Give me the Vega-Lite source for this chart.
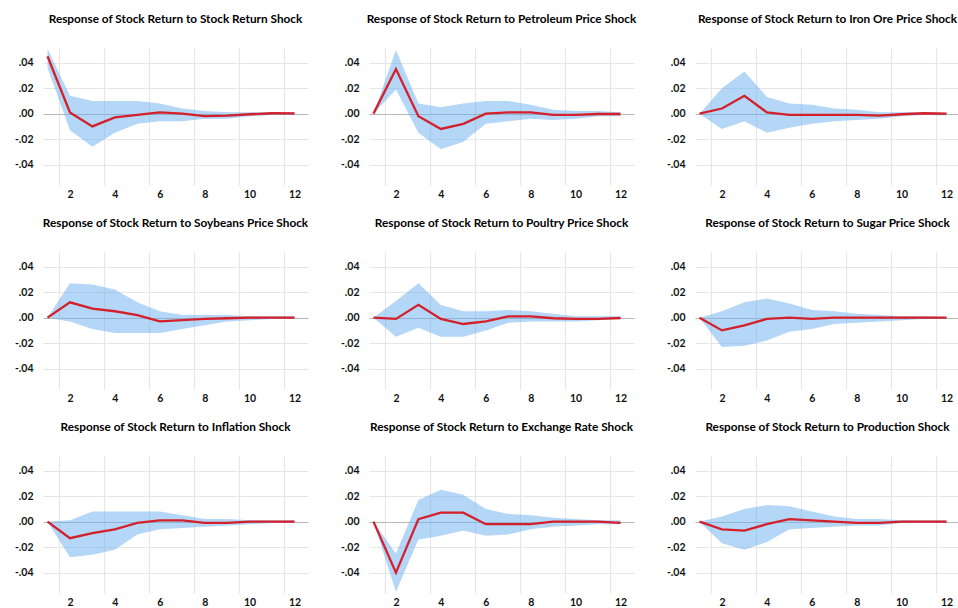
{
  "$schema": "https://vega.github.io/schema/vega-lite/v6.json",
  "padding": {"left": 14, "top": 14, "right": 0, "bottom": 5},
  "bounds": "flush",
  "spacing": {"row": 67, "column": 61},
  "data": {"values": [
    {"p": "Response of Stock Return to Stock Return Shock", "h": 1, "v": 0.045, "lo": 0.036, "hi": 0.051},
    {"p": "Response of Stock Return to Stock Return Shock", "h": 2, "v": 0.001, "lo": -0.013, "hi": 0.014},
    {"p": "Response of Stock Return to Stock Return Shock", "h": 3, "v": -0.010, "lo": -0.026, "hi": 0.010},
    {"p": "Response of Stock Return to Stock Return Shock", "h": 4, "v": -0.003, "lo": -0.015, "hi": 0.010},
    {"p": "Response of Stock Return to Stock Return Shock", "h": 5, "v": -0.001, "lo": -0.008, "hi": 0.010},
    {"p": "Response of Stock Return to Stock Return Shock", "h": 6, "v": 0.001, "lo": -0.006, "hi": 0.008},
    {"p": "Response of Stock Return to Stock Return Shock", "h": 7, "v": 0.000, "lo": -0.006, "hi": 0.004},
    {"p": "Response of Stock Return to Stock Return Shock", "h": 8, "v": -0.002, "lo": -0.004, "hi": 0.002},
    {"p": "Response of Stock Return to Stock Return Shock", "h": 9, "v": -0.0015, "lo": -0.004, "hi": 0.001},
    {"p": "Response of Stock Return to Stock Return Shock", "h": 10, "v": -0.0005, "lo": -0.002, "hi": 0.001},
    {"p": "Response of Stock Return to Stock Return Shock", "h": 11, "v": 0.0003, "lo": -0.001, "hi": 0.001},
    {"p": "Response of Stock Return to Stock Return Shock", "h": 12, "v": 0.0002, "lo": -0.001, "hi": 0.001},

    {"p": "Response of Stock Return to Petroleum Price Shock", "h": 1, "v": 0.0, "lo": 0.0, "hi": 0.0},
    {"p": "Response of Stock Return to Petroleum Price Shock", "h": 2, "v": 0.035, "lo": 0.019, "hi": 0.050},
    {"p": "Response of Stock Return to Petroleum Price Shock", "h": 3, "v": -0.002, "lo": -0.015, "hi": 0.008},
    {"p": "Response of Stock Return to Petroleum Price Shock", "h": 4, "v": -0.012, "lo": -0.028, "hi": 0.005},
    {"p": "Response of Stock Return to Petroleum Price Shock", "h": 5, "v": -0.008, "lo": -0.022, "hi": 0.008},
    {"p": "Response of Stock Return to Petroleum Price Shock", "h": 6, "v": 0.0, "lo": -0.008, "hi": 0.010},
    {"p": "Response of Stock Return to Petroleum Price Shock", "h": 7, "v": 0.001, "lo": -0.006, "hi": 0.010},
    {"p": "Response of Stock Return to Petroleum Price Shock", "h": 8, "v": 0.001, "lo": -0.004, "hi": 0.007},
    {"p": "Response of Stock Return to Petroleum Price Shock", "h": 9, "v": -0.001, "lo": -0.005, "hi": 0.003},
    {"p": "Response of Stock Return to Petroleum Price Shock", "h": 10, "v": -0.001, "lo": -0.004, "hi": 0.002},
    {"p": "Response of Stock Return to Petroleum Price Shock", "h": 11, "v": -0.0003, "lo": -0.002, "hi": 0.002},
    {"p": "Response of Stock Return to Petroleum Price Shock", "h": 12, "v": -0.0003, "lo": -0.002, "hi": 0.001},

    {"p": "Response of Stock Return to Iron Ore Price Shock", "h": 1, "v": 0.0, "lo": 0.0, "hi": 0.0},
    {"p": "Response of Stock Return to Iron Ore Price Shock", "h": 2, "v": 0.004, "lo": -0.012, "hi": 0.020},
    {"p": "Response of Stock Return to Iron Ore Price Shock", "h": 3, "v": 0.014, "lo": -0.006, "hi": 0.033},
    {"p": "Response of Stock Return to Iron Ore Price Shock", "h": 4, "v": 0.001, "lo": -0.015, "hi": 0.013},
    {"p": "Response of Stock Return to Iron Ore Price Shock", "h": 5, "v": -0.001, "lo": -0.011, "hi": 0.008},
    {"p": "Response of Stock Return to Iron Ore Price Shock", "h": 6, "v": -0.001, "lo": -0.008, "hi": 0.007},
    {"p": "Response of Stock Return to Iron Ore Price Shock", "h": 7, "v": -0.001, "lo": -0.006, "hi": 0.004},
    {"p": "Response of Stock Return to Iron Ore Price Shock", "h": 8, "v": -0.001, "lo": -0.005, "hi": 0.003},
    {"p": "Response of Stock Return to Iron Ore Price Shock", "h": 9, "v": -0.0015, "lo": -0.004, "hi": 0.001},
    {"p": "Response of Stock Return to Iron Ore Price Shock", "h": 10, "v": -0.0005, "lo": -0.002, "hi": 0.001},
    {"p": "Response of Stock Return to Iron Ore Price Shock", "h": 11, "v": 0.0003, "lo": -0.001, "hi": 0.001},
    {"p": "Response of Stock Return to Iron Ore Price Shock", "h": 12, "v": 0.0, "lo": -0.0015, "hi": 0.0005},

    {"p": "Response of Stock Return to Soybeans Price Shock", "h": 1, "v": 0.0, "lo": 0.0, "hi": 0.0},
    {"p": "Response of Stock Return to Soybeans Price Shock", "h": 2, "v": 0.012, "lo": -0.003, "hi": 0.027},
    {"p": "Response of Stock Return to Soybeans Price Shock", "h": 3, "v": 0.007, "lo": -0.009, "hi": 0.026},
    {"p": "Response of Stock Return to Soybeans Price Shock", "h": 4, "v": 0.005, "lo": -0.012, "hi": 0.022},
    {"p": "Response of Stock Return to Soybeans Price Shock", "h": 5, "v": 0.002, "lo": -0.012, "hi": 0.012},
    {"p": "Response of Stock Return to Soybeans Price Shock", "h": 6, "v": -0.003, "lo": -0.012, "hi": 0.005},
    {"p": "Response of Stock Return to Soybeans Price Shock", "h": 7, "v": -0.002, "lo": -0.009, "hi": 0.002},
    {"p": "Response of Stock Return to Soybeans Price Shock", "h": 8, "v": -0.001, "lo": -0.006, "hi": 0.002},
    {"p": "Response of Stock Return to Soybeans Price Shock", "h": 9, "v": -0.0005, "lo": -0.003, "hi": 0.002},
    {"p": "Response of Stock Return to Soybeans Price Shock", "h": 10, "v": 0.0, "lo": -0.002, "hi": 0.001},
    {"p": "Response of Stock Return to Soybeans Price Shock", "h": 11, "v": 0.0, "lo": -0.001, "hi": 0.001},
    {"p": "Response of Stock Return to Soybeans Price Shock", "h": 12, "v": 0.0, "lo": -0.001, "hi": 0.001},

    {"p": "Response of Stock Return to Poultry Price Shock", "h": 1, "v": 0.0, "lo": 0.0, "hi": 0.0},
    {"p": "Response of Stock Return to Poultry Price Shock", "h": 2, "v": -0.001, "lo": -0.015, "hi": 0.013},
    {"p": "Response of Stock Return to Poultry Price Shock", "h": 3, "v": 0.010, "lo": -0.008, "hi": 0.027},
    {"p": "Response of Stock Return to Poultry Price Shock", "h": 4, "v": -0.001, "lo": -0.015, "hi": 0.010},
    {"p": "Response of Stock Return to Poultry Price Shock", "h": 5, "v": -0.005, "lo": -0.015, "hi": 0.005},
    {"p": "Response of Stock Return to Poultry Price Shock", "h": 6, "v": -0.003, "lo": -0.010, "hi": 0.005},
    {"p": "Response of Stock Return to Poultry Price Shock", "h": 7, "v": 0.001, "lo": -0.004, "hi": 0.006},
    {"p": "Response of Stock Return to Poultry Price Shock", "h": 8, "v": 0.001, "lo": -0.003, "hi": 0.005},
    {"p": "Response of Stock Return to Poultry Price Shock", "h": 9, "v": -0.0005, "lo": -0.003, "hi": 0.003},
    {"p": "Response of Stock Return to Poultry Price Shock", "h": 10, "v": -0.001, "lo": -0.003, "hi": 0.001},
    {"p": "Response of Stock Return to Poultry Price Shock", "h": 11, "v": -0.001, "lo": -0.002, "hi": 0.001},
    {"p": "Response of Stock Return to Poultry Price Shock", "h": 12, "v": -0.0003, "lo": -0.001, "hi": 0.001},

    {"p": "Response of Stock Return to Sugar Price Shock", "h": 1, "v": 0.0, "lo": 0.0, "hi": 0.0},
    {"p": "Response of Stock Return to Sugar Price Shock", "h": 2, "v": -0.010, "lo": -0.023, "hi": 0.005},
    {"p": "Response of Stock Return to Sugar Price Shock", "h": 3, "v": -0.006, "lo": -0.022, "hi": 0.012},
    {"p": "Response of Stock Return to Sugar Price Shock", "h": 4, "v": -0.001, "lo": -0.018, "hi": 0.015},
    {"p": "Response of Stock Return to Sugar Price Shock", "h": 5, "v": 0.0, "lo": -0.011, "hi": 0.011},
    {"p": "Response of Stock Return to Sugar Price Shock", "h": 6, "v": -0.001, "lo": -0.009, "hi": 0.006},
    {"p": "Response of Stock Return to Sugar Price Shock", "h": 7, "v": 0.0, "lo": -0.005, "hi": 0.005},
    {"p": "Response of Stock Return to Sugar Price Shock", "h": 8, "v": 0.0, "lo": -0.004, "hi": 0.003},
    {"p": "Response of Stock Return to Sugar Price Shock", "h": 9, "v": 0.0, "lo": -0.003, "hi": 0.002},
    {"p": "Response of Stock Return to Sugar Price Shock", "h": 10, "v": 0.0, "lo": -0.002, "hi": 0.001},
    {"p": "Response of Stock Return to Sugar Price Shock", "h": 11, "v": 0.0, "lo": -0.001, "hi": 0.001},
    {"p": "Response of Stock Return to Sugar Price Shock", "h": 12, "v": 0.0, "lo": -0.001, "hi": 0.0005},

    {"p": "Response of Stock Return to Inflation Shock", "h": 1, "v": 0.0, "lo": 0.0, "hi": 0.0},
    {"p": "Response of Stock Return to Inflation Shock", "h": 2, "v": -0.013, "lo": -0.028, "hi": 0.001},
    {"p": "Response of Stock Return to Inflation Shock", "h": 3, "v": -0.009, "lo": -0.026, "hi": 0.008},
    {"p": "Response of Stock Return to Inflation Shock", "h": 4, "v": -0.006, "lo": -0.022, "hi": 0.008},
    {"p": "Response of Stock Return to Inflation Shock", "h": 5, "v": -0.001, "lo": -0.010, "hi": 0.008},
    {"p": "Response of Stock Return to Inflation Shock", "h": 6, "v": 0.001, "lo": -0.006, "hi": 0.008},
    {"p": "Response of Stock Return to Inflation Shock", "h": 7, "v": 0.001, "lo": -0.005, "hi": 0.005},
    {"p": "Response of Stock Return to Inflation Shock", "h": 8, "v": -0.001, "lo": -0.004, "hi": 0.002},
    {"p": "Response of Stock Return to Inflation Shock", "h": 9, "v": -0.001, "lo": -0.003, "hi": 0.002},
    {"p": "Response of Stock Return to Inflation Shock", "h": 10, "v": 0.0, "lo": -0.002, "hi": 0.001},
    {"p": "Response of Stock Return to Inflation Shock", "h": 11, "v": 0.0, "lo": -0.001, "hi": 0.001},
    {"p": "Response of Stock Return to Inflation Shock", "h": 12, "v": 0.0, "lo": -0.001, "hi": 0.001},

    {"p": "Response of Stock Return to Exchange Rate Shock", "h": 1, "v": 0.0, "lo": 0.0, "hi": 0.0},
    {"p": "Response of Stock Return to Exchange Rate Shock", "h": 2, "v": -0.040, "lo": -0.055, "hi": -0.025},
    {"p": "Response of Stock Return to Exchange Rate Shock", "h": 3, "v": 0.002, "lo": -0.014, "hi": 0.017},
    {"p": "Response of Stock Return to Exchange Rate Shock", "h": 4, "v": 0.007, "lo": -0.011, "hi": 0.025},
    {"p": "Response of Stock Return to Exchange Rate Shock", "h": 5, "v": 0.007, "lo": -0.007, "hi": 0.021},
    {"p": "Response of Stock Return to Exchange Rate Shock", "h": 6, "v": -0.002, "lo": -0.011, "hi": 0.010},
    {"p": "Response of Stock Return to Exchange Rate Shock", "h": 7, "v": -0.002, "lo": -0.010, "hi": 0.006},
    {"p": "Response of Stock Return to Exchange Rate Shock", "h": 8, "v": -0.002, "lo": -0.006, "hi": 0.005},
    {"p": "Response of Stock Return to Exchange Rate Shock", "h": 9, "v": 0.0, "lo": -0.004, "hi": 0.003},
    {"p": "Response of Stock Return to Exchange Rate Shock", "h": 10, "v": 0.0, "lo": -0.003, "hi": 0.002},
    {"p": "Response of Stock Return to Exchange Rate Shock", "h": 11, "v": 0.0, "lo": -0.002, "hi": 0.001},
    {"p": "Response of Stock Return to Exchange Rate Shock", "h": 12, "v": -0.001, "lo": -0.002, "hi": 0.001},

    {"p": "Response of Stock Return to Production Shock", "h": 1, "v": 0.0, "lo": 0.0, "hi": 0.0},
    {"p": "Response of Stock Return to Production Shock", "h": 2, "v": -0.006, "lo": -0.017, "hi": 0.004},
    {"p": "Response of Stock Return to Production Shock", "h": 3, "v": -0.007, "lo": -0.022, "hi": 0.010},
    {"p": "Response of Stock Return to Production Shock", "h": 4, "v": -0.002, "lo": -0.016, "hi": 0.013},
    {"p": "Response of Stock Return to Production Shock", "h": 5, "v": 0.002, "lo": -0.006, "hi": 0.012},
    {"p": "Response of Stock Return to Production Shock", "h": 6, "v": 0.001, "lo": -0.005, "hi": 0.008},
    {"p": "Response of Stock Return to Production Shock", "h": 7, "v": 0.0, "lo": -0.004, "hi": 0.004},
    {"p": "Response of Stock Return to Production Shock", "h": 8, "v": -0.001, "lo": -0.003, "hi": 0.002},
    {"p": "Response of Stock Return to Production Shock", "h": 9, "v": -0.001, "lo": -0.003, "hi": 0.002},
    {"p": "Response of Stock Return to Production Shock", "h": 10, "v": 0.0, "lo": -0.001, "hi": 0.001},
    {"p": "Response of Stock Return to Production Shock", "h": 11, "v": 0.0, "lo": -0.001, "hi": 0.001},
    {"p": "Response of Stock Return to Production Shock", "h": 12, "v": 0.0, "lo": -0.001, "hi": 0.001}
  ]},
  "columns": 3,
  "facet": {
    "field": "p",
    "type": "nominal",
    "sort": [
      "Response of Stock Return to Stock Return Shock",
      "Response of Stock Return to Petroleum Price Shock",
      "Response of Stock Return to Iron Ore Price Shock",
      "Response of Stock Return to Soybeans Price Shock",
      "Response of Stock Return to Poultry Price Shock",
      "Response of Stock Return to Sugar Price Shock",
      "Response of Stock Return to Inflation Shock",
      "Response of Stock Return to Exchange Rate Shock",
      "Response of Stock Return to Production Shock"
    ],
    "header": {
      "title": null,
      "labelFont": "Lato",
      "labelFontWeight": "bold",
      "labelFontSize": 11.8,
      "labelColor": "#000000",
      "labelPadding": 22,
      "labelLimit": 0
    }
  },
  "resolve": {"axis": {"x": "independent", "y": "independent"}},
  "spec": {
    "width": 265,
    "height": 137,
    "encoding": {
      "x": {
        "field": "h",
        "type": "quantitative",
        "scale": {"domain": [0.8, 12.6], "nice": false, "zero": false},
        "axis": {"values": [2, 4, 6, 8, 10, 12], "tickCount": 12, "title": null, "tickOffset": -11, "labelOffset": 11, "labelPadding": 4}
      }
    },
    "layer": [
      {
        "mark": {"type": "area", "color": "#6aaef0", "opacity": 0.5},
        "encoding": {
          "y": {
            "field": "lo",
            "type": "quantitative",
            "scale": {"domain": [-0.056, 0.0515], "nice": false, "zero": false},
            "axis": {
              "values": [-0.04, -0.02, 0, 0.02, 0.04],
              "tickCount": 10,
              "title": null,
              "labelPadding": 10,
              "labelOverlap": false,
              "format": ".2f",
              "labelExpr": "datum.value < 0 ? '-' + slice(datum.label, 2) : slice(datum.label, 1)",
              "gridColor": {"condition": {"test": "datum.value === 0", "value": "#b8b8b8"}, "value": "#e6e6e6"}
            }
          },
          "y2": {"field": "hi"}
        }
      },
      {
        "mark": {"type": "line", "color": "#d3202a", "strokeWidth": 2.3},
        "encoding": {"y": {"field": "v", "type": "quantitative"}}
      }
    ]
  },
  "config": {
    "view": {"stroke": null},
    "axis": {
      "labelFont": "Lato",
      "labelFontWeight": "bold",
      "labelFontSize": 10.5,
      "labelColor": "#111111",
      "labelOverlap": false,
      "domain": false,
      "ticks": false,
      "gridColor": "#e6e6e6",
      "gridWidth": 1.2
    }
  }
}
